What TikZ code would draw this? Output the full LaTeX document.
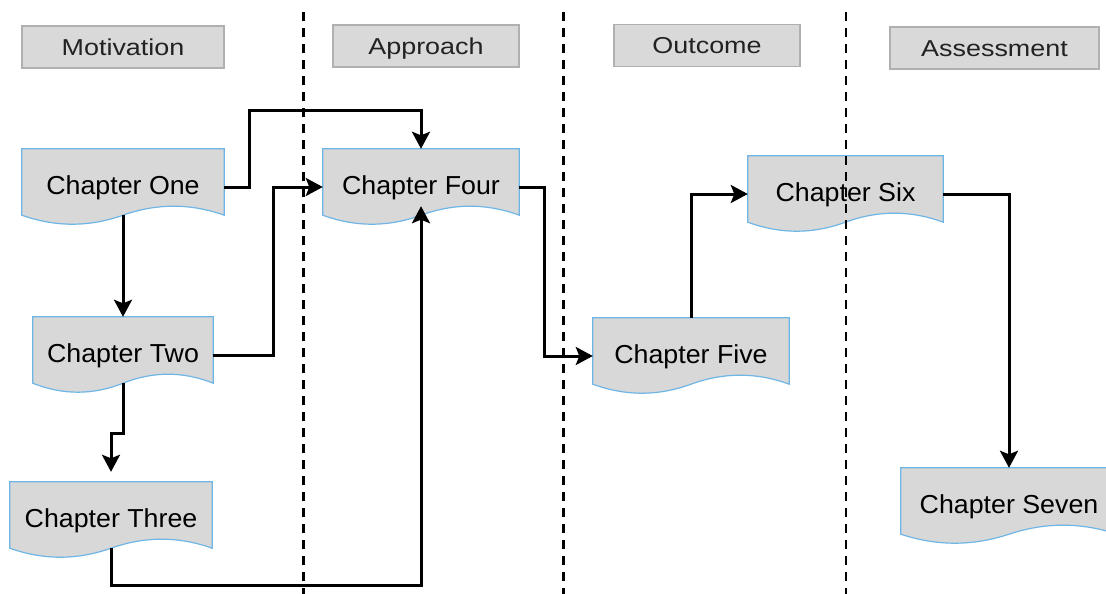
\documentclass[tikz,border=0pt]{standalone}
\usepackage{fontspec}
\setmainfont{Liberation Sans}
\usetikzlibrary{arrows.meta,calc,backgrounds}

\definecolor{docfill}{HTML}{D8D8D8}
\definecolor{docedge}{HTML}{6FB5E6}
\definecolor{hdrfill}{HTML}{D9D9D9}
\definecolor{hdredge}{HTML}{B0B0B0}
\definecolor{hdrtext}{HTML}{222222}

% text placed below the node centre, so the shape's wave leaves room
\newcommand\chaptxt[1]{\raisebox{-7.5pt}[0pt][0pt]{\scalebox{1.03}[1]{#1}}}
\newcommand\hdrtxt[1]{\raisebox{-8.5pt}[0pt][0pt]{\scalebox{1.17}[1]{#1}}}

% document outline: flat top, wavy bottom
\newcommand\docoutline[1]{%
  \coordinate (#1-se) at ([yshift=10pt]#1.south east);
  \coordinate (#1-s)  at ([yshift=10pt]#1.south);
  \coordinate (#1-sw) at ([yshift=10pt]#1.south west);
  \path[docshape] (#1.north west) -- (#1.north east) -- (#1-se)
    .. controls ($(#1-se)!1/3!(#1-s)+(0,-12)$) and ($(#1-s)!1/3!(#1-se)+(0,-12)$) .. (#1-s)
    .. controls ($(#1-s)!1/3!(#1-sw)+(0,12)$) and ($(#1-sw)!1/3!(#1-s)+(0,12)$) .. (#1-sw)
    -- cycle;}

\tikzset{
  chap/.style={inner sep=0pt, minimum height=76pt, text=black,
    font=\fontsize{26}{30}\selectfont},
  docshape/.style={fill=docfill, draw=docedge, line width=1.2pt},
  hdr/.style={draw=hdredge, fill=hdrfill, line width=1.2pt, inner sep=0pt,
    minimum height=42pt, text=hdrtext, font=\fontsize{23}{27}\selectfont},
  lane/.style={line width=2.6pt, dash pattern=on 9pt off 7pt},
  arr/.style={line width=3pt, -{Stealth[length=17pt,width=18pt,inset=3.5pt]}},
}

\begin{document}
\begin{tikzpicture}[x=1pt,y=-1pt]
\useasboundingbox (0,0) rectangle (1106,594);
\clip (0,0) rectangle (1106,594);

% column headers
\node[hdr, minimum width=202pt] (hmot) at (123,47)   {\hdrtxt{Motivation}};
\node[hdr, minimum width=186pt] (happ) at (426,46)   {\hdrtxt{Approach}};
\node[hdr, minimum width=186pt] (hout) at (707,45.5) {\hdrtxt{Outcome}};
\node[hdr, minimum width=209pt] (hass) at (994.5,48) {\hdrtxt{Assessment}};

% chapters
\node[chap, minimum width=202pt] (one)   at (123,187) {\chaptxt{Chapter One}};
\node[chap, minimum width=180pt] (two)   at (123,355) {\chaptxt{Chapter Two}};
\node[chap, minimum width=202pt] (three) at (111,520) {\chaptxt{Chapter Three}};
\node[chap, minimum width=196pt] (four)  at (421,187) {\chaptxt{Chapter Four}};
\node[chap, minimum width=196pt] (five)  at (691,356) {\chaptxt{Chapter Five}};
\node[chap, minimum width=195pt] (six)   at (845.5,194) {\chaptxt{Chapter Six}};
\node[chap, minimum width=216pt] (seven) at (1009,506) {\chaptxt{Chapter Seven}};

\begin{pgfonlayer}{background}
  \docoutline{one}
  \docoutline{two}
  \docoutline{three}
  \docoutline{four}
  \docoutline{five}
  \docoutline{six}
  \docoutline{seven}
\end{pgfonlayer}

% lane separators
\coordinate (s1t) at (303.5,12);  \coordinate (s1b) at (303.5,594);
\coordinate (s2t) at (563.5,12);  \coordinate (s2b) at (563.5,594);
\coordinate (s3t) at (846,12);    \coordinate (s3b) at (846,594);
\draw[lane] (s1t) -- (s1b);
\draw[lane] (s2t) -- (s2b);
\draw[lane] (s3t) -- (s3b);

% bends
\coordinate (k1) at (249,110.5);
\coordinate (k4) at (111,433);
\coordinate (k5) at (421,585);

% connectors
\draw[arr] (one.east) -| (k1) -| (four.north);
\draw[arr] (one-s) -- (two.north);
\draw[arr] (two.east) -| ([xshift=-49pt]four.west) -- (four.west);
\draw[arr, shorten >=10pt] (two-s) |- (k4) -- (three.north);
\draw[arr, shorten >=-9pt] (three-s) |- (k5) -- (four-s);
\draw[arr] (four.east) -| ([xshift=-48pt]five.west) -- (five.west);
\draw[arr] (five.north) |- (six.west);
\draw[arr] (six.east) -| (seven.north);
\end{tikzpicture}
\end{document}
